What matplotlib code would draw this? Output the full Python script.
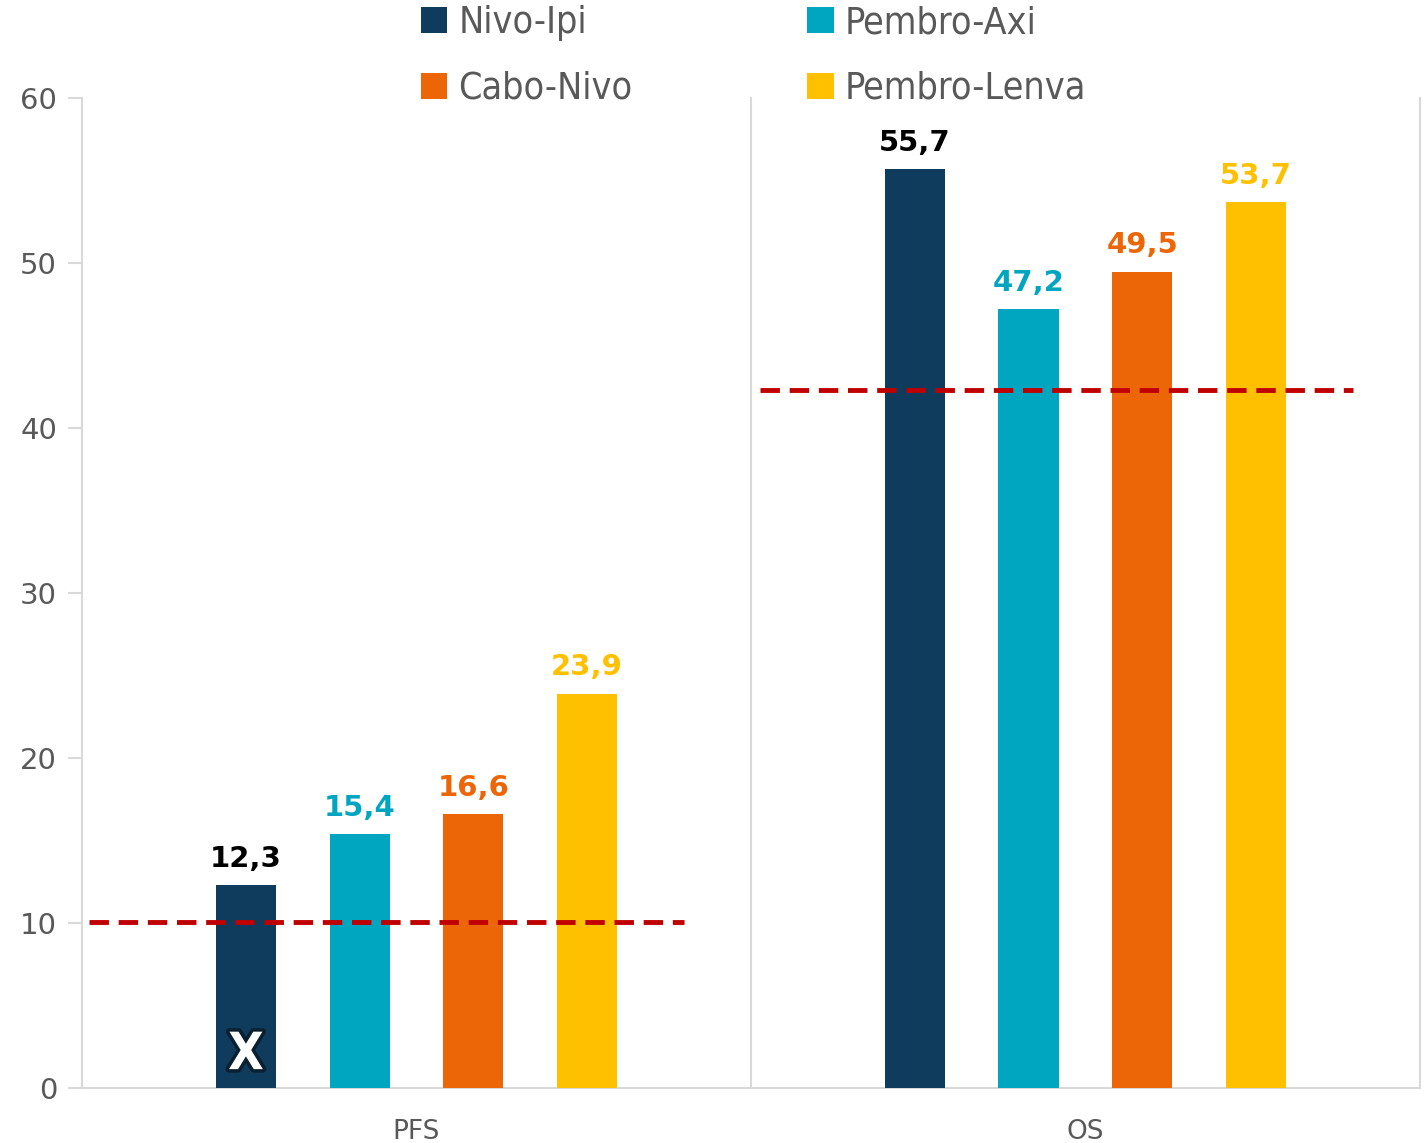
import matplotlib.pyplot as plt
import matplotlib.patheffects as pe
import numpy as np

categories = ['PFS', 'OS']
series = ['Nivo-Ipi', 'Pembro-Axi', 'Cabo-Nivo', 'Pembro-Lenva']
values = {
    'Nivo-Ipi': [12.3, 55.7],
    'Pembro-Axi': [15.4, 47.2],
    'Cabo-Nivo': [16.6, 49.5],
    'Pembro-Lenva': [23.9, 53.7],
}
labels = {
    'Nivo-Ipi': ['12,3', '55,7'],
    'Pembro-Axi': ['15,4', '47,2'],
    'Cabo-Nivo': ['16,6', '49,5'],
    'Pembro-Lenva': ['23,9', '53,7'],
}
reference = [10.1, 42.3]  # dashed reference line per category
colors = ['#0f3b5c', '#00a6c0', '#ec6608', '#ffc000']
label_colors = ['#000000', '#00a6c0', '#ec6608', '#ffc000']

fig = plt.figure(figsize=(14.27, 11.43), dpi=100)
ax = fig.add_axes([0.0575, 0.048, 0.9375, 0.866])

x = np.arange(len(categories))
step = 0.17
width = 0.09
handles = []
for i, s in enumerate(series):
    pos = x + (i - 1.5) * step
    bars = ax.bar(pos, values[s], width=width, color=colors[i], label=s, zorder=3)
    handles.append(bars)
    ax.bar_label(bars, labels=labels[s], padding=9, color=label_colors[i],
                 fontsize=21, fontweight='bold')

# reference lines
ref_spans = [(-0.49, 0.40), (0.514, 1.40)]
for r, (a, b) in zip(reference, ref_spans):
    ax.plot([a, b], [r, r], color='#c00000', linestyle=(0, (4, 2)), linewidth=3.5, zorder=4)

# cross mark on Nivo-Ipi PFS bar
ax.text(x[0] - 1.5 * step, 2, 'X', ha='center', va='center', fontsize=37,
        fontweight='bold', color='white', zorder=5, fontstretch='condensed',
        path_effects=[pe.Stroke(linewidth=5, foreground='#0a1f30'), pe.Normal()])

ax.set_xlim(-0.5, 1.5)
ax.set_ylim(0, 60)
ax.set_yticks(range(0, 61, 10))
ax.set_xticks(x)
ax.set_xticklabels(categories)
ax.tick_params(axis='y', colors='#d9d9d9', labelcolor='#595959', labelsize=21,
               length=10, width=1.5, pad=8)
ax.tick_params(axis='x', length=0, labelcolor='#595959', labelsize=19, pad=22)

for sp in ['top', 'right']:
    ax.spines[sp].set_visible(False)
for sp in ['left', 'bottom']:
    ax.spines[sp].set_color('#d9d9d9')
    ax.spines[sp].set_linewidth(1.5)

# separators between categories
for xv in [0.5, 1.5]:
    ax.axvline(xv, color='#d9d9d9', linewidth=1.5, zorder=1, clip_on=False)

# legend filled row by row
order = [0, 2, 1, 3]
fig.legend([handles[k] for k in order], [series[k] for k in order],
           loc='upper center', bbox_to_anchor=(0.528, 1.025), ncol=2, frameon=False,
           handlelength=0.7, handleheight=0.7, handletextpad=0.3,
           columnspacing=4.67, labelspacing=0.79, labelcolor='#595959',
           prop={'family': 'DejaVu Sans', 'stretch': 'condensed', 'size': 27})

fig.savefig('out.png', dpi=100)
